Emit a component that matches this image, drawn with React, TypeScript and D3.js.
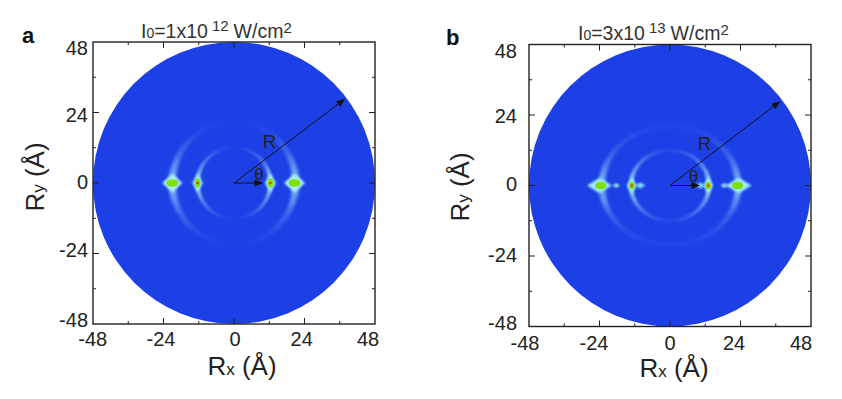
import React from "react";
import * as d3 from "d3";

const majorTicks = [-48, -24, 0, 24, 48];
const minorTicks = [-36, -12, 12, 36];
const tickText = (v: number) => String(v);

// halos, drawn as soft diamonds: [centre x Å, half-width Å, half-height Å, colour, blur px]
const halosA: [number, number, number, string, number][] = [
  [-21, 3.4, 3.2, "#a8eeff", 1.2], [20.6, 3.6, 3.2, "#a8eeff", 1.2],
  [-12.4, 1.8, 3.2, "#9cecff", 1], [12.4, 1.9, 3.2, "#9cecff", 1],
];
const halosB: [number, number, number, string, number][] = [
  [-24, 4.2, 2.6, "#9cecff", 1], [23.4, 4.4, 2.6, "#9cecff", 1],
  [-18.3, 1.3, 0.8, "#a8eeff", 0.8], [18.5, 1.3, 0.8, "#a8eeff", 0.8],
  [-10.1, 1.7, 1, "#80e0ff", 1], [10.3, 1.7, 1, "#80e0ff", 1],
  [-13, 1.7, 3, "#9cecff", 1], [13, 1.7, 3, "#9cecff", 1],
];
// cores: [centre x Å, half-width Å, half-height Å, colour]
const coresA: [number, number, number, string][] = [
  [-21, 2, 1.3, "#82e000"], [20.6, 2, 1.3, "#82e000"],
  [-12.4, 0.95, 1.5, "#82e000"], [12.4, 0.95, 1.5, "#82e000"],
  [-12.4, 0.42, 0.42, "#f02a10"], [12.4, 0.42, 0.42, "#f02a10"],
];
const coresB: [number, number, number, string][] = [
  [-23.6, 1.9, 1.3, "#82e000"], [23, 1.9, 1.3, "#82e000"],
  [-13, 0.95, 1.3, "#82e000"], [13, 0.95, 1.3, "#82e000"],
  [-13, 0.4, 0.4, "#f02a10"], [13, 0.4, 0.4, "#f02a10"],
];

// crescents: radii in Å, then read-off profile along the sweep
const sweepAngles = [0, 15, 30, 50, 70, 92];
const outerOpacityA = [0.75, 0.5, 0.24, 0.09, 0.03, 0];
const outerWidthA = [8, 6.5, 5.5, 5, 5, 5];
const innerOpacityA = [0.9, 0.72, 0.48, 0.26, 0.1, 0];
const innerWidthA = [4.5, 4, 3.2, 2.8, 2.4, 2];
const outerOpacityB = [0.7, 0.48, 0.22, 0.1, 0.05, 0.02];
const outerWidthB = [7, 6, 5, 4.5, 5, 6];
const innerOpacityB = [0.9, 0.72, 0.5, 0.3, 0.16, 0.03];
const innerWidthB = [4.5, 4.2, 3.8, 3.2, 3, 3];

const panels = [
  { id: "a", letter: "a", letterX: 22, letterY: 43, left: 93, top: 42, size: 282, base: "1", exp: "12",
    titleX: 141, titleY: 38, rTip: [37.6, 28.5], thetaTip: 9.6, rLabel: [12.1, 11.9], tLabel: [8.5, 3],
    xLabelPos: [92.7, 161, 235, 301.7, 368], yLabelPos: [320, 250, 182, 115, 48], xLabelBase: 346, yLabelRight: 88,
    axisX: 242, axisXBase: 375, axisY: 34, axisYMid: 177,
    halos: halosA, cores: coresA,
    crescents: [
      { rx: 21, ry: 20.8, opacity: outerOpacityA, width: outerWidthA, blur: 1.6 },
      { rx: 12.4, ry: 12.1, opacity: innerOpacityA, width: innerWidthA, blur: 0.9 },
    ] },
  { id: "b", letter: "b", letterX: 446, letterY: 45, left: 529, top: 44.5, size: 282, base: "3", exp: "13",
    titleX: 578, titleY: 40, rTip: [37.3, 28.5], thetaTip: 10, rLabel: [11.7, 12], tLabel: [8, 2.9],
    xLabelPos: [525, 594, 670, 734, 801], yLabelPos: [322.7, 255, 184, 116, 50.7], xLabelBase: 350, yLabelRight: 517,
    axisX: 674, axisXBase: 377, axisY: 459, axisYMid: 187,
    halos: halosB, cores: coresB,
    crescents: [
      { rx: 23.2, ry: 20.2, opacity: outerOpacityB, width: outerWidthB, blur: 1.5 },
      { rx: 13.3, ry: 12, opacity: innerOpacityB, width: innerWidthB, blur: 1 },
    ] },
];

const FONT = "'Liberation Sans', Arial, sans-serif";
const INK = "#222";

function Panel({ p }: { p: (typeof panels)[number] }) {
  const x = d3.scaleLinear().domain([-48, 48]).range([p.left, p.left + p.size]);
  const y = d3.scaleLinear().domain([-48, 48]).range([p.top + p.size, p.top]);
  const xLab = d3.scaleLinear().domain(majorTicks).range(p.xLabelPos);
  const yLab = d3.scaleLinear().domain(majorTicks).range(p.yLabelPos);
  const right = p.left + p.size;
  const bottom = p.top + p.size;
  const cx = x(0);
  const cy = y(0);
  const kx = x(1) - cx;
  const diamond = d3.line<[number, number]>().x((d) => x(d[0])).y((d) => y(d[1])).curve(d3.curveLinearClosed);
  const segStep = 3;
  return (
    <g fontFamily={FONT} fill={INK}>
      <text x={p.letterX} y={p.letterY} fontSize={22} fontWeight={700} fill="#111">{p.letter}</text>
      <text x={p.titleX} y={p.titleY} fontSize={19.5} fill="#333">
        I<tspan fontSize={14}>0</tspan>={p.base}x10
        <tspan dx={4} dy={-7} fontSize={15}>{p.exp}</tspan>
        <tspan dx={5} dy={7}>W/cm</tspan>
        <tspan dy={-5} fontSize={15}>2</tspan>
      </text>
      <circle cx={cx} cy={cy} r={x(48) - cx} fill="#1d3fe6" />
      {p.crescents.map((c, ci) => {
        const op = d3.scaleLinear().domain(sweepAngles).range(c.opacity).clamp(true);
        const wd = d3.scaleLinear().domain(sweepAngles).range(c.width).clamp(true);
        const segs: { path: string; o: number; w: number; key: string }[] = [];
        [0, 180].forEach((mid) => {
          d3.range(-92, 92, segStep).forEach((a) => {
            const mean = Math.abs(a + segStep / 2);
            const pts: [number, number][] = [a, a + segStep].map((t) => {
              const r = ((t + mid) * Math.PI) / 180;
              return [x(c.rx * Math.cos(r)), y(c.ry * Math.sin(r))];
            });
            segs.push({ path: d3.line()(pts) || "", o: op(mean), w: wd(mean), key: `${mid}-${a}` });
          });
        });
        return (
          <g key={ci} filter={`url(#${p.id}-blur-${ci})`}>
            {segs.map((s) => (
              <path key={s.key} d={s.path} fill="none" stroke="#a8eeff" strokeWidth={s.w} strokeOpacity={s.o} />
            ))}
          </g>
        );
      })}
      {p.halos.map((b, i) => (
        <path key={i}
          d={diamond([[b[0] - b[1], 0], [b[0], b[2]], [b[0] + b[1], 0], [b[0], -b[2]]]) || ""}
          fill={b[3]} filter={`url(#halo-${Math.round(b[4] * 10)})`} />
      ))}
      {p.cores.map((b, i) => (
        <ellipse key={i} cx={x(b[0])} cy={cy} rx={b[1] * kx} ry={b[2] * kx} fill={b[3]} />
      ))}
      <rect x={p.left} y={p.top} width={p.size} height={p.size} fill="none" stroke={INK} strokeWidth={1.4} />
      {majorTicks.filter((v) => Math.abs(v) < 48).map((v) => (
        <g key={v} stroke={INK} strokeWidth={1}>
          <line x1={x(v)} x2={x(v)} y1={bottom} y2={bottom - 6} />
          <line x1={x(v)} x2={x(v)} y1={p.top} y2={p.top + 6} />
          <line x1={p.left} x2={p.left + 6} y1={y(v)} y2={y(v)} />
          <line x1={right} x2={right - 6} y1={y(v)} y2={y(v)} />
        </g>
      ))}
      {minorTicks.map((v) => (
        <g key={v} stroke={INK} strokeWidth={1}>
          <line x1={x(v)} x2={x(v)} y1={bottom} y2={bottom - 3} />
          <line x1={x(v)} x2={x(v)} y1={p.top} y2={p.top + 3} />
          <line x1={p.left} x2={p.left + 3} y1={y(v)} y2={y(v)} />
          <line x1={right} x2={right - 3} y1={y(v)} y2={y(v)} />
        </g>
      ))}
      {majorTicks.map((v) => (
        <text key={`x${v}`} x={xLab(v)} y={p.xLabelBase} fontSize={20} textAnchor="middle">{tickText(v)}</text>
      ))}
      {majorTicks.map((v) => (
        <text key={`y${v}`} x={p.yLabelRight} y={yLab(v) + 7} fontSize={20} textAnchor="end">{tickText(v)}</text>
      ))}
      <text x={p.axisX} y={p.axisXBase} fontSize={26} textAnchor="middle">
        R<tspan fontSize={17}>x</tspan> (Å)
      </text>
      <text transform={`translate(${p.axisY},${p.axisYMid}) rotate(-90)`} fontSize={26} textAnchor="middle" dy={10}>
        R<tspan fontSize={17}>y</tspan> (Å)
      </text>
      <line x1={cx} y1={cy} x2={x(p.rTip[0])} y2={y(p.rTip[1])} stroke="#111" strokeWidth={1} markerEnd="url(#tip)" />
      <line x1={cx} y1={cy} x2={x(p.thetaTip)} y2={cy} stroke="#111" strokeWidth={1} markerEnd="url(#tip)" />
      <text x={x(p.rLabel[0])} y={y(p.rLabel[1])} fontSize={18.5} textAnchor="middle" fill="#222">R</text>
      <text x={x(p.tLabel[0])} y={y(p.tLabel[1]) + 5.5} fontSize={17} textAnchor="middle" fill="#222">θ</text>
    </g>
  );
}

export default function App() {
  const haloLevels = Array.from(new Set(panels.flatMap((p) => p.halos.map((b) => b[4]))));
  return (
    <svg width={842} height={399} style={{ position: "absolute", left: 0, top: 0, background: "#fff" }}>
      <defs>
        {haloLevels.map((l) => (
          <filter key={l} id={`halo-${Math.round(l * 10)}`} x="-100%" y="-100%" width="300%" height="300%">
            <feGaussianBlur stdDeviation={l} />
          </filter>
        ))}
        {panels.flatMap((p) =>
          p.crescents.map((c, i) => (
            <filter key={`${p.id}${i}`} id={`${p.id}-blur-${i}`} filterUnits="userSpaceOnUse" x={p.left} y={p.top} width={p.size} height={p.size}>
              <feGaussianBlur stdDeviation={c.blur} />
            </filter>
          ))
        )}
        <marker id="tip" viewBox="0 0 10 8" refX="9" refY="4" markerWidth="9" markerHeight="7" markerUnits="userSpaceOnUse" orient="auto">
          <path d="M0,0 L10,4 L0,8 Z" fill="#111" />
        </marker>
      </defs>
      {panels.map((p) => <Panel key={p.id} p={p} />)}
    </svg>
  );
}
